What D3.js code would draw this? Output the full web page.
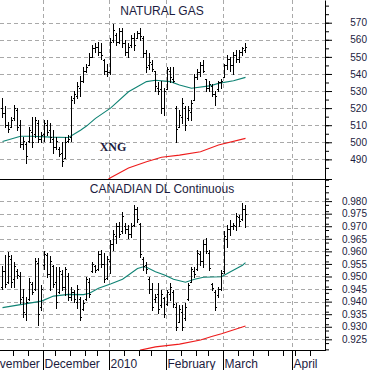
<!DOCTYPE html>
<html>
<head>
<meta charset="utf-8">
<script src="https://cdnjs.cloudflare.com/ajax/libs/d3/7.8.5/d3.min.js"></script>
<style>
  body { margin: 0; background: #fff; }
  svg { display: block; font-family: Arial, "Liberation Sans", sans-serif; }
  .grid line { stroke: #a9a9a9; stroke-dasharray: 4,3; shape-rendering: crispEdges; }
</style>
</head>
<body>
<div id="chart"></div>
<script>
// ---- x axis: trading-day index of each bar (bar 0 = Nov 10 2009) ----
const monthLabels = ['November', 'December', '2010', 'February', 'March', 'April'];
const monthFirstBar = [-6, 14, 36, 55, 74, 97];
const weekFirstBar = [4, 9, 18, 23, 28, 32, 41, 46, 50, 60, 65, 69, 79, 84, 89, 94, 98, 103];

// ---- natural gas (XNG) ----
const gasOpen = [520,517,510,509,514,519,510,499,499,501, 506,505,511,502,505,510,507,502,497,496,
  494,491,501,503,526,527,532,536,542,545, 550,555,556,553,548,542,541,560,563,559,
  565,558,553,557,561,561,564,561,552,545, 546,542,532,531,520,531,542,537,520,509,
  515,520,514,518,525,538,541,545,537,532, 533,528,531,535,538,545,549,545,551,549, 553,554];
const gasHigh = [526,521,512,515,522,520,513,503,500,509, 515,515,513,506,513,513,511,507,503,497,
  500,503,504,527,530,535,539,544,546,552, 557,558,559,558,549,546,561,569,564,567,
  567,560,558,563,564,565,567,562,554,552, 548,542,535,536,532,544,544,544,521,519,
  526,521,521,525,540,543,547,548,537,536, 534,530,536,537,546,551,550,553,554,554, 556,558];
const gasLow = [515,509,506,509,513,507,497,496,488,500, 497,503,500,500,501,504,500,494,496,492,
  486,491,500,501,523,526,527,535,541,545, 550,553,551,549,540,539,540,559,557,558,
  556,551,550,556,554,561,560,550,541,543, 542,530,528,517,516,531,535,535,500,509,
  511,507,513,513,525,537,539,541,530,530, 527,522,530,532,538,543,542,540,547,547, 551,553];
const gasClose = [517,510,508,513,520,509,499,501,492,507, 500,513,502,504,511,506,503,497,501,493,
  489,500,502,525,528,533,536,542,544,550, 555,556,553,551,542,541,559,566,559,565,
  558,553,556,561,557,564,562,552,544,547, 543,533,530,520,530,543,538,536,508,516,
  523,510,519,523,538,541,545,542,532,534, 528,527,535,536,545,549,545,551,549,553, 555,556];
const gasMaBar = [0, 6, 10, 16, 22, 26, 28, 31, 36, 42, 48, 51, 54, 56, 59, 63, 69, 72, 77, 81];
const gasMaVal = [500.5, 503.5, 503.5, 503, 502.8, 507, 509.5, 514, 520, 529.6, 535.5, 536.3, 535.8, 535.5, 533.5, 531.6, 533, 534.5, 536, 538];
const gasLongBar = [35, 36, 42, 48, 53, 59, 66, 72, 81];
const gasLongVal = [478, 479.2, 485, 488.6, 491.2, 492.5, 494.5, 498.4, 502.3];
const gasTicks = [490, 500, 510, 520, 530, 540, 550, 560, 570];

// ---- Canadian dollar continuous ----
const cadOpen = [.9460,.9520,.9480,.9570,.9490,.9520,.9500,.9420,.9350,.9410, .9470,.9450,.9555,.9380,.9545,.9585,.9510,.9540,.9480,.9440,
  .9510,.9460,.9500,.9420,.9440,.9400,.9410,.9370,.9410,.9480, .9520,.9540,.9530,.9590,.9550,.9495,.9560,.9630,.9660,.9700,
  .9680,.9700,.9690,.9670,.9705,.9770,.9710,.9570,.9545,.9490, .9450,.9410,.9430,.9385,.9415,.9390,.9430,.9440,.9380,.9320,
  .9360,.9335,.9410,.9480,.9520,.9530,.9590,.9560,.9630,.9595, .9470,.9440,.9425,.9450,.9520,.9650,.9690,.9700,.9700,.9735, .9730,.9770];
const cadHigh = [.9540,.9585,.9597,.9585,.9557,.9530,.9518,.9450,.9420,.9494, .9480,.9573,.9573,.9466,.9600,.9593,.9580,.9545,.9538,.9538,
  .9526,.9538,.9514,.9458,.9446,.9466,.9420,.9406,.9498,.9494, .9557,.9545,.9600,.9605,.9593,.9580,.9645,.9685,.9712,.9716,
  .9756,.9712,.9705,.9712,.9784,.9776,.9712,.9577,.9557,.9498, .9474,.9430,.9474,.9446,.9420,.9446,.9474,.9446,.9394,.9386,
  .9386,.9394,.9474,.9538,.9538,.9605,.9600,.9645,.9653,.9605, .9474,.9446,.9460,.9526,.9680,.9705,.9724,.9712,.9752,.9745, .9792,.9784];
const cadLow = [.9450,.9458,.9474,.9460,.9458,.9495,.9394,.9339,.9327,.9406, .9430,.9446,.9307,.9366,.9530,.9498,.9446,.9458,.9374,.9434,
  .9446,.9426,.9406,.9406,.9400,.9374,.9327,.9366,.9406,.9418, .9518,.9518,.9526,.9538,.9478,.9490,.9514,.9605,.9633,.9657,
  .9673,.9673,.9653,.9657,.9700,.9716,.9577,.9526,.9514,.9434, .9366,.9400,.9355,.9380,.9339,.9386,.9406,.9380,.9287,.9318,
  .9287,.9327,.9406,.9478,.9498,.9526,.9545,.9538,.9593,.9526, .9446,.9366,.9420,.9446,.9514,.9617,.9665,.9690,.9685,.9700, .9724,.9697];
const cadClose = [.9520,.9470,.9580,.9480,.9540,.9505,.9410,.9360,.9400,.9480, .9440,.9560,.9350,.9450,.9590,.9510,.9560,.9470,.9400,.9520,
  .9460,.9530,.9420,.9440,.9410,.9450,.9340,.9395,.9490,.9430, .9550,.9525,.9590,.9550,.9490,.9570,.9630,.9670,.9700,.9670,
  .9740,.9690,.9670,.9700,.9770,.9730,.9590,.9540,.9530,.9450, .9380,.9420,.9370,.9430,.9350,.9440,.9460,.9390,.9300,.9370,
  .9300,.9380,.9465,.9530,.9510,.9595,.9560,.9630,.9600,.9535, .9455,.9380,.9450,.9515,.9660,.9690,.9700,.9705,.9740,.9720, .9770,.9750];
const cadMaBar = [0, 5, 9, 13, 17, 22, 27, 29, 32, 36, 40, 42, 45, 47, 48, 51, 54, 57, 61, 64, 67, 73, 76, 80, 81];
const cadMaVal = [.9376,.9386,.9394,.9402,.9422,.9429,.9428,.9433,.9453,.9470,.9489,.9506,.9532,.9539,.9537,.9519,.9506,.9489,.9477,.9489,.9497,.9499,.9519,.9545,.9555];
const cadLongBar = [45, 46, 51, 59, 66, 70, 73, 81];
const cadLongVal = [.9200, .9207, .9220, .9231, .9247, .9262, .9272, .9303];
const cadTicks = [0.925, 0.930, 0.935, 0.940, 0.945, 0.950, 0.955, 0.960, 0.965, 0.970, 0.975, 0.980];

const width = 371, height = 370;
const plotRight = 325;
const textColor = '#1c1c40';

const svg = d3.select('#chart').append('svg')
    .attr('width', width)
    .attr('height', height);

const x = d3.scaleLinear().domain([-0.833, 107.5]).range([0, plotRight]);
const px = v => Math.round(v) + 0.5;

// vertical month gridlines through both panels
svg.append('g').classed('grid', true)
    .selectAll('line')
    .data(monthFirstBar.slice(1))
    .enter().append('line')
    .attr('x1', d => px(x(d - 0.5)))
    .attr('x2', d => px(x(d - 0.5)))
    .attr('y1', 0)
    .attr('y2', 350);

const drawPanel = (opt) => {
    const y = opt.y;
    const [bottom, top] = y.range();

    svg.append('clipPath').attr('id', opt.id)
        .append('rect')
        .attr('x', 0).attr('y', top)
        .attr('width', plotRight).attr('height', bottom - top);

    svg.append('g').classed('grid', true)
        .selectAll('line')
        .data(opt.ticks)
        .enter().append('line')
        .attr('x1', 0)
        .attr('x2', plotRight)
        .attr('y1', d => px(y(d)))
        .attr('y2', d => px(y(d)));

    const g = svg.append('g').attr('clip-path', `url(#${opt.id})`);

    g.append('path')
        .attr('d', d3.line().x((d, i) => x(d)).y((d, i) => y(opt.longVal[i]))(opt.longBar))
        .attr('fill', 'none')
        .attr('stroke', '#ee1c1c')
        .attr('stroke-width', 1.1);

    g.append('path')
        .attr('d', d3.line().x((d, i) => x(d)).y((d, i) => y(opt.maVal[i]))(opt.maBar))
        .attr('fill', 'none')
        .attr('stroke', '#0f8374')
        .attr('stroke-width', 1.1);

    const bars = d3.range(opt.high.length);
    g.selectAll('.bar')
        .data(bars)
        .enter().append('path')
        .classed('bar', true)
        .attr('d', i => {
            const cx = px(x(i));
            const yo = px(y(opt.open[i])), yc = px(y(opt.close[i]));
            return `M${cx},${Math.round(y(opt.high[i]))}V${Math.round(y(opt.low[i])) + 1}` +
                `M${cx - 1.5},${yo}H${cx}M${cx},${yc}H${cx + 1.5}`;
        })
        .attr('fill', 'none')
        .attr('stroke', '#000')
        .attr('stroke-width', 1)
        .attr('shape-rendering', 'crispEdges');

    // right axis: minor ticks, then labelled ticks
    svg.append('g')
        .attr('transform', `translate(${plotRight},0)`)
        .call(d3.axisRight(y).tickValues(opt.minor).tickSize(4).tickSizeOuter(0).tickFormat(''))
        .call(a => a.select('.domain').remove());

    const ax = svg.append('g')
        .attr('transform', `translate(${plotRight},0)`)
        .attr('font-size', 12)
        .attr('font-family', 'Arial, "Liberation Sans", sans-serif')
        .call(d3.axisRight(y).tickValues(opt.ticks).tickSize(7).tickSizeOuter(0).tickFormat(opt.fmt));
    ax.selectAll('text')
        .attr('x', 42)
        .attr('text-anchor', 'end')
        .attr('fill', textColor);

    svg.append('text')
        .attr('x', 162)
        .attr('y', opt.titleY)
        .attr('text-anchor', 'middle')
        .attr('fill', textColor)
        .style('font-size', '12px')
        .text(opt.title);
};

drawPanel({
    id: 'clip-gas',
    y: d3.scaleLinear().domain([478.5, 583.3]).range([179, 0]),
    open: gasOpen, high: gasHigh, low: gasLow, close: gasClose,
    maBar: gasMaBar, maVal: gasMaVal, longBar: gasLongBar, longVal: gasLongVal,
    ticks: gasTicks,
    minor: d3.range(485, 585, 5),
    fmt: d3.format('d'),
    title: 'NATURAL GAS', titleY: 15
});

drawPanel({
    id: 'clip-cad',
    y: d3.scaleLinear().domain([0.92075, 0.9888]).range([350, 179]),
    open: cadOpen, high: cadHigh, low: cadLow, close: cadClose,
    maBar: cadMaBar, maVal: cadMaVal, longBar: cadLongBar, longVal: cadLongVal,
    ticks: cadTicks,
    minor: d3.range(0.921, 0.989, 0.0025),
    fmt: d3.format('.3f'),
    title: 'CANADIAN DL Continuous', titleY: 193
});

svg.append('text')
    .attr('x', 113)
    .attr('y', 151)
    .attr('text-anchor', 'middle')
    .attr('fill', textColor)
    .style('font-family', '"Liberation Serif", "Times New Roman", serif')
    .style('font-weight', 'bold')
    .style('font-size', '12px')
    .text('XNG');

// panel separator and x axis
svg.append('line')
    .attr('x1', 0).attr('x2', 332)
    .attr('y1', 179.5).attr('y2', 179.5)
    .attr('stroke', '#000');

const xAxis = svg.append('g').attr('transform', 'translate(0,350)');
xAxis.append('line')
    .attr('x1', 0).attr('x2', plotRight + 1)
    .attr('y1', 0.5).attr('y2', 0.5)
    .attr('stroke', '#000');
xAxis.selectAll('.wk')
    .data(weekFirstBar)
    .enter().append('line')
    .attr('x1', d => px(x(d - 0.5)))
    .attr('x2', d => px(x(d - 0.5)))
    .attr('y1', 0).attr('y2', 6)
    .attr('stroke', '#000');
xAxis.selectAll('.mo')
    .data(monthFirstBar)
    .enter().append('line')
    .attr('x1', d => px(x(d - 0.5)))
    .attr('x2', d => px(x(d - 0.5)))
    .attr('y1', 0).attr('y2', 20)
    .attr('stroke', '#000');
xAxis.selectAll('.lbl')
    .data(monthLabels)
    .enter().append('text')
    .attr('x', (d, i) => x(monthFirstBar[i] - 0.5) + 1.5)
    .attr('y', 18)
    .attr('fill', textColor)
    .style('font-size', '12px')
    .text(d => d);
</script>
</body>
</html>
